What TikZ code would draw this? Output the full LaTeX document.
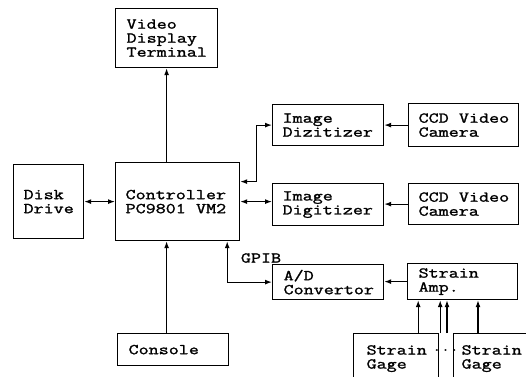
\documentclass[tikz,border=0pt]{standalone}
\usepackage{fontspec}
\newfontfamily\monof{Latin Modern Mono}[FakeStretch=1.3, AutoFakeBold=1.5]
\newcommand\monosize{\monof\bfseries\fontsize{15}{14}\selectfont
  \fontdimen2\font=10.24pt\fontdimen3\font=0pt\fontdimen4\font=0pt\relax}
\usetikzlibrary{arrows.meta}
\begin{document}
\begin{tikzpicture}[x=1pt,y=-1pt,
  txt/.style={font=\monosize},
  bx/.style={txt, draw, line width=1.2pt, anchor=north west, align=flush left,
    inner xsep=11pt, inner ysep=0pt},
  ar/.style={line width=1.2pt, -{Latex[length=7pt,width=5pt]}},
  dar/.style={line width=1.2pt, {Latex[length=7pt,width=5pt]}-{Latex[length=7pt,width=5pt]}}]
\useasboundingbox (0,0) rectangle (526,376);

\node[bx, text width=80pt, minimum height=59pt] (vdt) at (115,8) {Video\\Display\\Terminal};
\node[bx, inner xsep=10pt, text width=104pt, minimum height=78pt] (ctrl) at (115,162) {Controller\\PC9801~VM2};
\node[bx, inner xsep=10pt, text width=50pt, minimum height=74pt] (disk) at (13,164) {Disk\\Drive};
\node[bx, inner xsep=10pt, text width=91pt, minimum height=41pt] (dig1) at (272,104) {Image\\Dizitizer};
\node[bx, inner xsep=10pt, text width=90pt, minimum height=43pt] (cam1) at (408,103) {CCD~Video\\Camera};
\node[bx, inner xsep=10pt, text width=91pt, minimum height=42pt] (dig2) at (272,183) {Image\\Digitizer};
\node[bx, inner xsep=10pt, text width=90pt, minimum height=41pt] (cam2) at (408,183) {CCD~Video\\Camera};
\node[bx, text width=89pt, minimum height=35pt] (ad) at (272,264) {A/D\\Convertor};
\node[bx, text width=88pt, minimum height=36pt] (amp) at (407,263) {Strain\\Amp.};
\node[bx, text width=89pt, minimum height=32pt] (console) at (117,333) {Console};
\node[bx, inner xsep=13pt, text width=59pt, minimum height=50pt] (gage1) at (353,333) {Strain\\Gage};
\node[bx, inner xsep=8pt, text width=69pt, minimum height=50pt] (gage2) at (453,333) {Strain\\Gage};

\node[txt] (gpib) at (261,258) {GPIB};
\node[font=\monof\bfseries\fontsize{13}{13}\selectfont, inner sep=0pt] (dots) at (445.5,350) {...};

% controller links
\draw[ar] (ctrl.north -| vdt.south) -- (vdt.south);
\draw[ar] (console.north -| vdt.south) -- (ctrl.south -| vdt.south);
\draw[dar] (disk) -- (ctrl);
\draw[dar] (ctrl.east) -- (ctrl.east -| dig2.west);
\draw[dar] ([yshift=20pt]ctrl.east) -- ++(16,0) |- (dig1.west);
\draw[dar] ([xshift=-13pt]ctrl.south east) |- (ad.west);

% camera / amp links
\draw[ar] (cam1) -- (dig1);
\draw[ar] (cam2.west) -- (cam2.west -| dig2.east);
\draw[ar] (amp.west) -- (amp.west -| ad.east);

% strain gages
\coordinate (g1) at ([xshift=-21pt]gage1.north east);
\coordinate (m1) at ([xshift=1pt]gage1.north east);
\coordinate (m2) at ([xshift=-6pt]gage2.north west);
\coordinate (g2) at ([xshift=25pt]gage2.north west);
\draw[ar] (g1) -- (g1 |- amp.south);
\draw[ar] (m1) -- (m1 |- amp.south);
\draw[ar] (m2) -- (m2 |- amp.south);
\draw[ar] (g2) -- (g2 |- amp.south);
\end{tikzpicture}
\end{document}
